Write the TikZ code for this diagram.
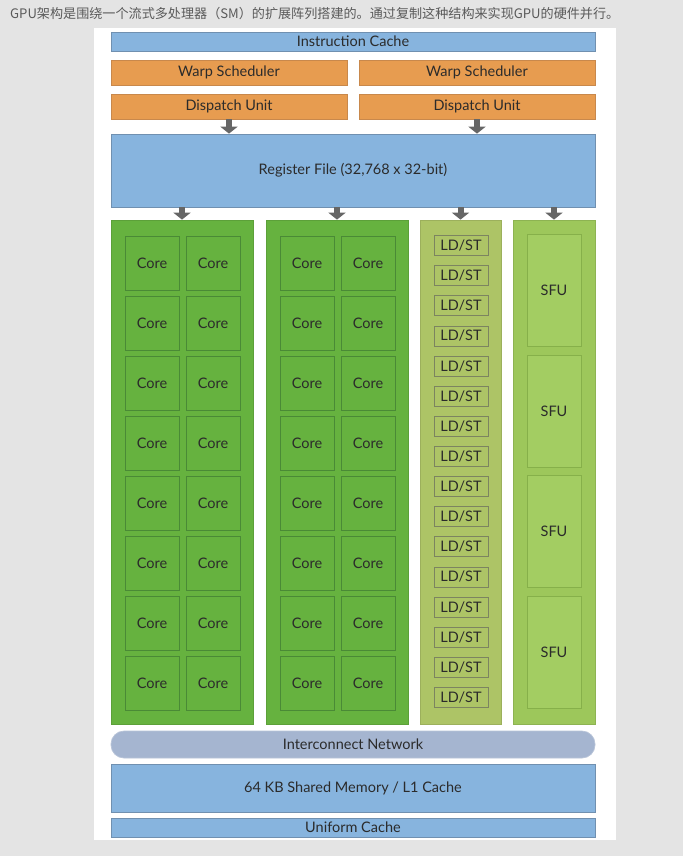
\documentclass[tikz,border=0pt]{standalone}
\usepackage{fontspec}
\setmainfont{Lato}
\newfontfamily\cjk{Noto Sans CJK SC}
\usetikzlibrary{arrows.meta}
\definecolor{bgc}{HTML}{E4E4E4}
\definecolor{bluef}{HTML}{87B4DE}
\definecolor{blued}{HTML}{7090B0}
\definecolor{orangef}{HTML}{E79C50}
\definecolor{oranged}{HTML}{C8884C}
\definecolor{greenf}{HTML}{66B23F}
\definecolor{greend}{HTML}{4A8A36}
\definecolor{ldstf}{HTML}{ADC466}
\definecolor{ldstd}{HTML}{7C8460}
\definecolor{sfuf}{HTML}{9DC75B}
\definecolor{sfuin}{HTML}{A3CD62}
\definecolor{sfud}{HTML}{86B04A}
\definecolor{icnf}{HTML}{A5B5D0}
\definecolor{icnd}{HTML}{B8C4D8}
\definecolor{txt}{HTML}{2B2B2B}
\definecolor{arr}{HTML}{666666}
\definecolor{capc}{HTML}{5A5A5A}
\tikzset{
  blk/.style={draw, line width=0.7pt, inner sep=0pt, text=txt,
    font=\fontsize{14.5}{16}\selectfont},
  bluebox/.style={blk, fill=bluef, draw=blued},
  orangebox/.style={blk, fill=orangef, draw=oranged},
  greencol/.style={blk, fill=greenf, draw=greenf!90!black},
  corebox/.style={blk, fill=greenf, draw=greend, minimum width=54pt, minimum height=54pt},
  ldstcol/.style={blk, fill=ldstf, draw=ldstf!90!black},
  ldstbox/.style={blk, fill=ldstf, draw=ldstd, minimum width=54pt, minimum height=20pt},
  sfucol/.style={blk, fill=sfuf, draw=sfuf!90!black},
  sfubox/.style={blk, fill=sfuin, draw=sfud, minimum width=54pt, minimum height=112pt},
  icnbox/.style={blk, fill=icnf, draw=icnd, rounded corners=13pt},
  fatarrow/.style={draw=arr, line width=6pt, -{Triangle[width=17pt,length=7pt]}}
}
\begin{document}
\begin{tikzpicture}[x=1pt,y=-1pt]
\fill[bgc] (0,0) rectangle (683,856);
\useasboundingbox (0,0) rectangle (683,856);
\fill[white] (94,28) rectangle (616,840);
\node[anchor=west, text=capc, inner sep=0pt, font=\cjk\fontsize{13.1}{15}\selectfont] (cap) at (10,14)
  {GPU架构是围绕一个流式多处理器（SM）的扩展阵列搭建的。通过复制这种结构来实现GPU的硬件并行。};
% top
\node[bluebox, minimum width=484pt, minimum height=19pt] (ic) at (353,41.5) {Instruction Cache};
\node[orangebox, minimum width=236pt, minimum height=25pt] (ws1) at (229,72.5) {Warp Scheduler};
\node[orangebox, minimum width=236pt, minimum height=25pt] (ws2) at (477,72.5) {Warp Scheduler};
\node[orangebox, minimum width=236pt, minimum height=25pt] (du1) at (229,106.5) {Dispatch Unit};
\node[orangebox, minimum width=236pt, minimum height=25pt] (du2) at (477,106.5) {Dispatch Unit};
\node[bluebox, minimum width=484pt, minimum height=73pt] (rf) at (353,170.5) {Register File (32,768 x 32-bit)};
% columns
\node[greencol, minimum width=142pt, minimum height=504pt] (c1) at (182,472) {};
\node[greencol, minimum width=142pt, minimum height=504pt] (c2) at (337,472) {};
\node[ldstcol, minimum width=81pt, minimum height=504pt] (c3) at (460.5,472) {};
\node[sfucol, minimum width=82pt, minimum height=504pt] (c4) at (554,472) {};
% arrows
\draw[fatarrow] (du1.south) -- (rf.north -| du1.south);
\draw[fatarrow] (du2.south) -- (rf.north -| du2.south);
\foreach \c in {c1,c2,c3,c4}
  \draw[fatarrow] (rf.south -| \c.north) -- (\c.north);
% cores
\foreach \b/\ox in {0/0,1/155}{
  \foreach \i in {0,...,7}{
    \node[corebox] (core-\b-\i-a) at (152+\ox, 263+60*\i) {Core};
    \node[corebox] (core-\b-\i-b) at (213+\ox, 263+60*\i) {Core};
  }
}
% LD/ST
\foreach \i in {0,...,15}
  \node[ldstbox] (ldst-\i) at (461, 245.5+30.13*\i) {LD/ST};
% SFU
\foreach \i in {0,...,3}
  \node[sfubox] (sfu-\i) at (554, 290.5+120.5*\i) {SFU};
% bottom
\node[icnbox, minimum width=484pt, minimum height=27pt] (icn) at (353,744.5) {Interconnect Network};
\node[bluebox, minimum width=484pt, minimum height=48pt] (sm) at (353,788) {64 KB Shared Memory / L1 Cache};
\node[bluebox, minimum width=484pt, minimum height=19pt] (uc) at (353,827.5) {Uniform Cache};
\end{tikzpicture}
\end{document}
